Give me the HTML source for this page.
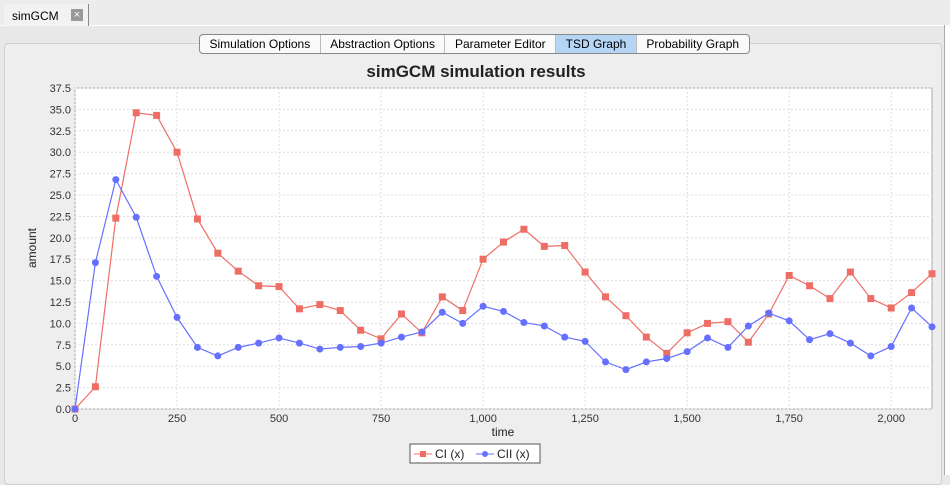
<!DOCTYPE html>
<html><head><meta charset="utf-8"><style>
body{margin:0;width:950px;height:475px;background:#e8e8e8;font-family:"Liberation Sans",sans-serif;overflow:hidden;position:relative}
.tab{position:absolute;left:4px;top:4px;width:84px;height:22px;background:#f2f2f2;border-right:1px solid #888;font-size:12px}
.tabs{position:absolute;left:199px;top:34px;height:18px;display:flex;border:1px solid #888;border-radius:4px;background:#fafafa;font-size:12px;overflow:hidden}
.tabs div{padding:2px 9.5px;border-right:1px solid #bbb;line-height:14px}
</style></head><body>
<div style="position:absolute;left:0;top:0;width:950px;height:25px;background:#ececec;border-bottom:1px solid #fff"></div>
<div class="tab"><span style="position:absolute;left:8px;top:5px">simGCM</span><span style="position:absolute;left:67px;top:5px;width:12px;height:12px;background:#999;color:#fff;font-size:11px;line-height:12px;text-align:center">×</span></div>
<div style="position:absolute;left:4px;top:43px;width:936px;height:440px;background:#eeeeee;border:1px solid #d0d0d0;border-radius:4px"></div>
<div style="position:absolute;left:944px;top:25px;width:6px;height:450px;background:#fff;border-left:1px solid #aaa"></div>
<div class="tabs">
<div>Simulation Options</div>
<div>Abstraction Options</div>
<div>Parameter Editor</div>
<div style="background:#b5d5f5">TSD Graph</div>
<div style="border-right:none">Probability Graph</div>
</div>
<svg id="chart" width="950" height="475" style="position:absolute;left:0;top:0"></svg>
<script>
const times=[0,50,100,150,200,250,300,350,400,450,500,550,600,650,700,750,800,850,900,950,1000,1050,1100,1150,1200,1250,1300,1350,1400,1450,1500,1550,1600,1650,1700,1750,1800,1850,1900,1950,2000,2050,2100];
const ciValues=[0,2.6,22.3,34.6,34.3,30.0,22.2,18.2,16.1,14.4,14.3,11.7,12.2,11.5,9.2,8.2,11.1,8.9,13.1,11.5,17.5,19.5,21.0,19.0,19.1,16.0,13.1,10.9,8.4,6.5,8.9,10.0,10.2,7.8,11.1,15.6,14.4,12.9,16.0,12.9,11.8,13.6,15.8];
const ciiValues=[0,17.1,26.8,22.4,15.5,10.7,7.2,6.2,7.2,7.7,8.3,7.7,7.0,7.2,7.3,7.7,8.4,9.0,11.3,10.0,12.0,11.4,10.1,9.7,8.4,7.9,5.5,4.6,5.5,5.9,6.7,8.3,7.2,9.7,11.2,10.3,8.1,8.8,7.7,6.2,7.3,11.8,9.6];
const yTicks=[0,2.5,5,7.5,10,12.5,15,17.5,20,22.5,25,27.5,30,32.5,35,37.5];
const xTicks=[0,250,500,750,1000,1250,1500,1750,2000];
const xTickLabels=["0","250","500","750","1,000","1,250","1,500","1,750","2,000"];
const L=75,R=932,T=88,B=409,XMAX=2100,YMAX=37.5;
const X=v=>L+(v/XMAX)*(R-L), Y=v=>B-(v/YMAX)*(B-T);
const svg=document.getElementById('chart');const NS='http://www.w3.org/2000/svg';
function mk(t,a,p){const e=document.createElementNS(NS,t);for(const k in a)e.setAttribute(k,a[k]);(p||svg).appendChild(e);return e;}
let t=mk('text',{x:476,y:77,'text-anchor':'middle','font-size':17,'font-weight':'bold',fill:'#222'});t.textContent='simGCM simulation results';


let bg=mk('rect',{x:L,y:T,width:R-L,height:B-T,fill:'#fff',stroke:'#aaa'});


yTicks.forEach(v=>{
 let g=mk('line',{x1:L,x2:R,y1:Y(v),y2:Y(v),stroke:'#ddd','stroke-dasharray':'2,2'});
 
 
 let l=mk('text',{x:L-4,y:Y(v)+4,'text-anchor':'end','font-size':11,fill:'#333'});l.textContent=v.toFixed(1);
 
 
});
xTicks.forEach((v,i)=>{
 let g=mk('line',{x1:X(v),x2:X(v),y1:T,y2:B,stroke:'#ddd','stroke-dasharray':'2,2'});
 
 
 let l=mk('text',{x:X(v),y:B+13,'text-anchor':'middle','font-size':11,fill:'#333'});l.textContent=xTickLabels[i];
 
 
});
let xt=mk('text',{x:503,y:436,'text-anchor':'middle','font-size':12,fill:'#222'});xt.textContent='time';


let yt=mk('text',{x:36,y:248,'text-anchor':'middle','font-size':12,fill:'#222',transform:'rotate(-90 36 248)'});yt.textContent='amount';


function series(vals,col,sq,name){
 let p=mk('polyline',{points:vals.map((v,i)=>X(times[i])+','+Y(v)).join(' '),fill:'none',stroke:col,'stroke-width':1.2});
 
 
 vals.forEach((v,i)=>{
  let m=sq?mk('rect',{x:X(times[i])-3.5,y:Y(v)-3.5,width:7,height:7,fill:col}):mk('circle',{cx:X(times[i]),cy:Y(v),r:3.5,fill:col});
  
  
 });
}
series(ciValues,'#ee6e66',true,'ci');
series(ciiValues,'#6670ff',false,'cii');
let lg=mk('rect',{x:410,y:444,width:130,height:19,fill:'#fff',stroke:'#555'});


mk('line',{x1:414,x2:432,y1:454,y2:454,stroke:'#ee6e66'});mk('rect',{x:420,y:451,width:6,height:6,fill:'#ee6e66'});
let a=mk('text',{x:435,y:458,'font-size':12,fill:'#222'});a.textContent='CI (x)';


mk('line',{x1:476,x2:494,y1:454,y2:454,stroke:'#6670ff'});mk('circle',{cx:485,cy:454,r:3,fill:'#6670ff'});
let b=mk('text',{x:497,y:458,'font-size':12,fill:'#222'});b.textContent='CII (x)';


</script>
</body></html>
